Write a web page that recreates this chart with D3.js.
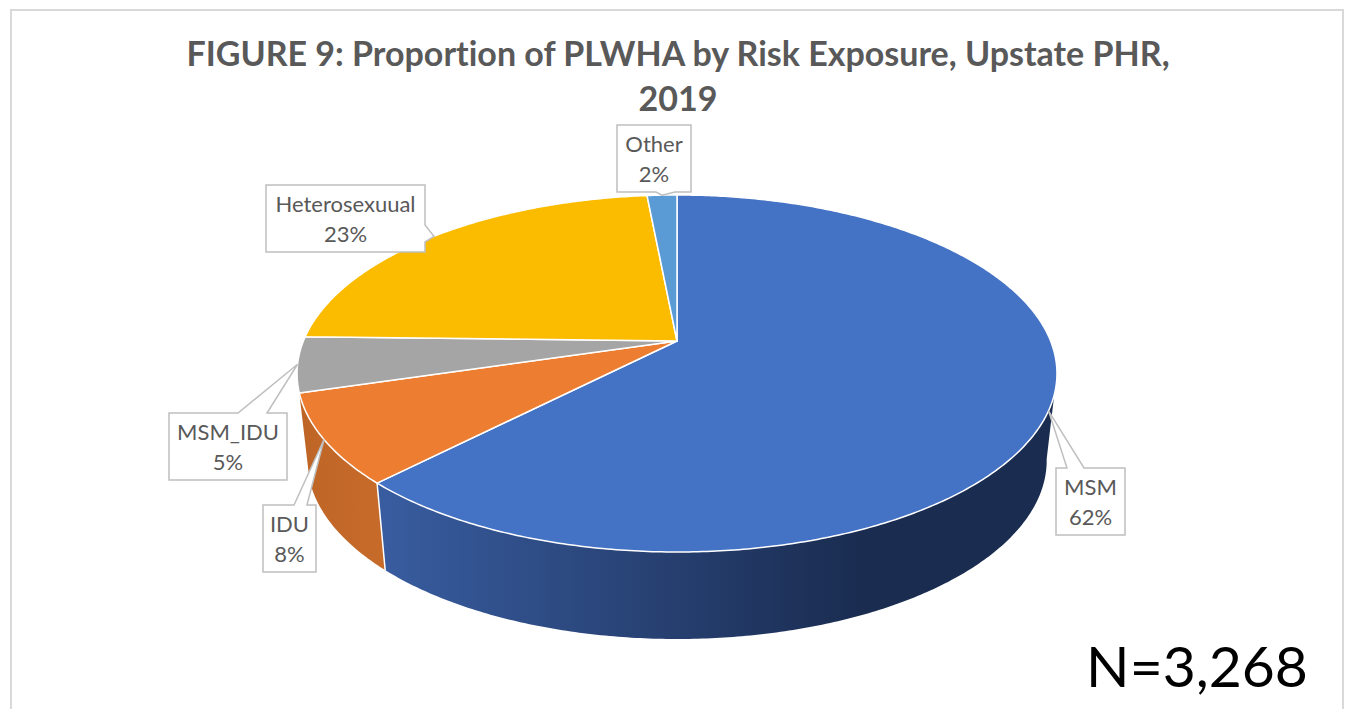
<!DOCTYPE html>
<html>
<head>
<meta charset="utf-8">
<script src="https://cdn.jsdelivr.net/npm/d3@7"></script>
<style>
  html, body { margin: 0; padding: 0; background: #fff; overflow: hidden; }
  svg { display: block; }
  text { font-variant-ligatures: none; }
</style>
</head>
<body>
<div id="chart"></div>
<script>
// values
const categories = ['MSM', 'IDU', 'MSM_IDU', 'Heterosexuual', 'Other'];
const shares = [0.623, 0.081, 0.05, 0.2309, 0.0151];
const titleLines = ['FIGURE 9: Proportion of PLWHA by Risk Exposure, Upstate PHR,', '2019'];
const totalLabel = 'N=3,268';

// styles and layout
const topColors = ['#4472C4', '#ED7D31', '#A5A5A5', '#FBBC00', '#5B9BD5'];
// label boxes: x, y, w, h, which side the pointer leaves from, and where along that side
const boxes = [
  {x: 1056, y: 468, w: 69, h: 67, side: 'top', from: 11, to: 28},
  {x: 263, y: 505, w: 53, h: 67, side: 'top', from: 31, to: 44},
  {x: 169, y: 413, w: 118, h: 67, side: 'top', from: 69, to: 98},
  {x: 266, y: 185, w: 159, h: 67, side: 'right', from: 40, to: 57},
  {x: 617, y: 125, w: 74, h: 67, side: 'bottom', from: 39, to: 58}
];

const width = 1348, height = 709;
const apexX = 677, apexY = 341;
// tilted disc: perspective of a unit circle, apex of the slices is not the ellipse centre
const persp = -0.182, scaleX = 373.6, scaleY = 172.6;
const depth = 87, bottomShrink = 0.973;
const sideStart = 100 * Math.PI / 180;

const svg = d3.select('#chart').append('svg')
    .attr('width', width)
    .attr('height', height);

// chart frame, runs off the bottom of the picture
svg.append('rect')
    .attr('x', 11).attr('y', 10)
    .attr('width', 1332).attr('height', 730)
    .attr('fill', '#fff')
    .attr('stroke', '#d9d9d9')
    .attr('stroke-width', 2);

svg.selectAll('.title')
    .data(titleLines)
    .enter()
    .append('text')
    .attr('class', 'title')
    .attr('x', 678)
    .attr('y', (d, i) => 66 + i * 45)
    .attr('text-anchor', 'middle')
    .style('font-family', 'Lato, sans-serif')
    .style('font-weight', 700)
    .style('font-size', '34px')
    .style('fill', '#595959')
    .text(d => d);

const project = (angle) => {
    let x = Math.sin(angle), y = -Math.cos(angle);
    let w = 1 + persp * y;
    return [apexX + scaleX * x / w, apexY + scaleY * y / w];
};
const projectBottom = (angle) => {
    let p = project(angle);
    return [apexX + (p[0] - apexX) * bottomShrink, p[1] + depth];
};
const anglesBetween = (a, b) => {
    let n = Math.max(2, Math.ceil((b - a) / 0.01));
    return d3.range(n + 1).map(i => a + (b - a) * i / n);
};

const pie = d3.pie().sort(null).value(d => d);
const slices = pie(shares);
const line = d3.line();

const defs = svg.append('defs');
const blueGrad = defs.append('linearGradient')
    .attr('id', 'blueSide')
    .attr('gradientUnits', 'userSpaceOnUse')
    .attr('x1', 385).attr('x2', 860).attr('y1', 0).attr('y2', 0);
blueGrad.append('stop').attr('offset', 0).attr('stop-color', '#385C9F');
blueGrad.append('stop').attr('offset', 1).attr('stop-color', '#1A2C50');
const orangeGrad = defs.append('linearGradient')
    .attr('id', 'orangeSide')
    .attr('gradientUnits', 'userSpaceOnUse')
    .attr('x1', 300).attr('x2', 385).attr('y1', 0).attr('y2', 0);
orangeGrad.append('stop').attr('offset', 0).attr('stop-color', '#BE6526');
orangeGrad.append('stop').attr('offset', 1).attr('stop-color', '#C76B2A');

// outer wall, only the two front slices show it
const sideParts = [
    {start: sideStart, end: slices[0].endAngle, fill: 'url(#blueSide)'},
    {start: slices[1].startAngle, end: slices[1].endAngle, fill: 'url(#orangeSide)'}
];
svg.append('g')
    .selectAll('path')
    .data(sideParts)
    .enter()
    .append('path')
    .attr('d', d => {
        let a = anglesBetween(d.start, d.end);
        return line(a.map(project).concat(a.slice().reverse().map(projectBottom))) + 'Z';
    })
    .attr('fill', d => d.fill);

// white seam between the two walls
svg.append('path')
    .attr('d', line([project(slices[1].startAngle), projectBottom(slices[1].startAngle)]))
    .attr('stroke', '#fff')
    .attr('stroke-width', 1.5)
    .attr('fill', 'none');

// top of the disc
svg.append('g')
    .selectAll('path')
    .data(slices)
    .enter()
    .append('path')
    .attr('d', d => {
        let pts = anglesBetween(d.startAngle, d.endAngle).map(project);
        return line([[apexX, apexY]].concat(pts)) + 'Z';
    })
    .attr('fill', (d, i) => topColors[i])
    .attr('stroke', '#fff')
    .attr('stroke-width', 1.5)
    .attr('stroke-linejoin', 'round');

// callouts, the pointer ends on the rim at the middle of its slice
const calloutPath = (b, tip) => {
    let x1 = b.x, y1 = b.y, x2 = b.x + b.w, y2 = b.y + b.h;
    let p = [[x1, y1]];
    if (b.side === 'top') p.push([x1 + b.from, y1], tip, [x1 + b.to, y1]);
    p.push([x2, y1]);
    if (b.side === 'right') p.push([x2, y1 + b.from], tip, [x2, y1 + b.to]);
    p.push([x2, y2]);
    if (b.side === 'bottom') p.push([x1 + b.to, y2], tip, [x1 + b.from, y2]);
    p.push([x1, y2]);
    return line(p) + 'Z';
};

const pct = d3.format('.0%');
const callouts = svg.append('g')
    .selectAll('g')
    .data(slices)
    .enter()
    .append('g');

callouts.append('path')
    .attr('d', (d, i) => calloutPath(boxes[i], project((d.startAngle + d.endAngle) / 2)))
    .attr('fill', '#fff')
    .attr('stroke', '#bfbfbf')
    .attr('stroke-width', 1.5);

const labelText = callouts.append('text')
    .attr('text-anchor', 'middle')
    .style('font-family', 'Lato, sans-serif')
    .style('font-size', '22px')
    .style('fill', '#595959');
labelText.append('tspan')
    .attr('x', (d, i) => boxes[i].x + boxes[i].w / 2)
    .attr('y', (d, i) => boxes[i].y + 27)
    .text((d, i) => categories[i]);
labelText.append('tspan')
    .attr('x', (d, i) => boxes[i].x + boxes[i].w / 2)
    .attr('y', (d, i) => boxes[i].y + 57)
    .text(d => pct(d.data));

svg.append('text')
    .attr('x', 1197)
    .attr('y', 687)
    .attr('text-anchor', 'middle')
    .style('font-family', 'Lato, sans-serif')
    .style('font-size', '57px')
    .style('fill', '#000')
    .text(totalLabel);
</script>
</body>
</html>
